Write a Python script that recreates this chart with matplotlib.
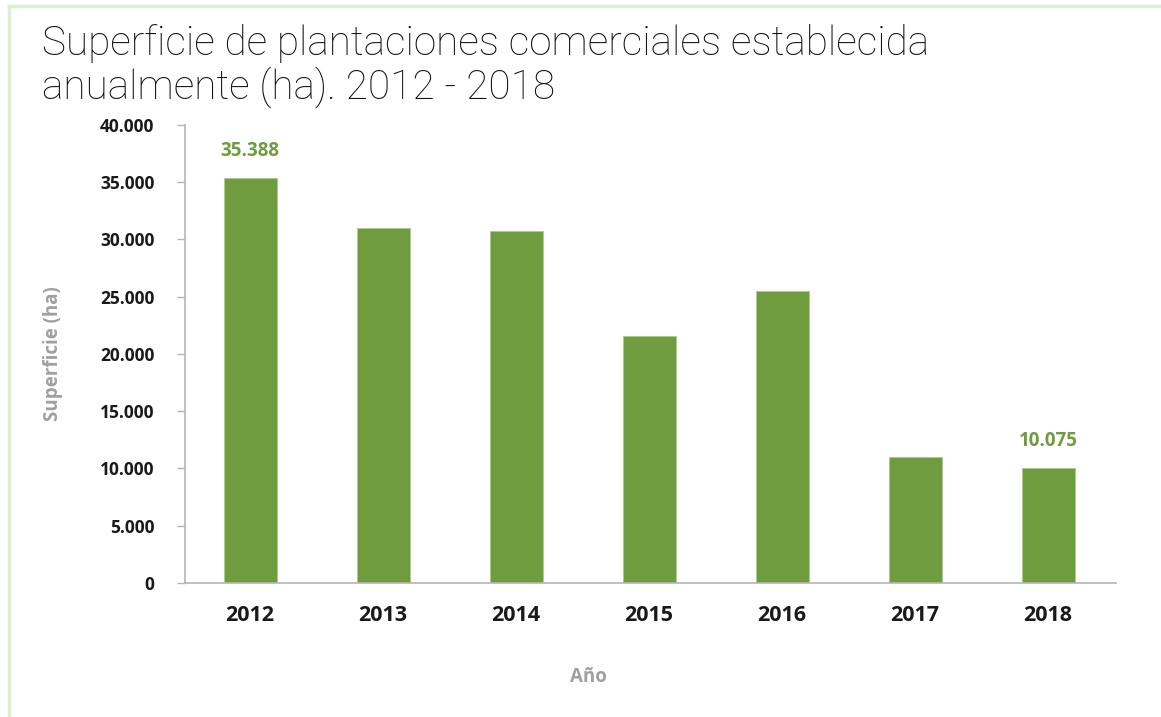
import matplotlib
matplotlib.use("Agg")
import matplotlib.pyplot as plt
from matplotlib.ticker import FuncFormatter, MultipleLocator
from matplotlib.lines import Line2D

# Superficie establecida por año (ha)
anios = ["2012", "2013", "2014", "2015", "2016", "2017", "2018"]
superficie = [35388, 31000, 30700, 21600, 25500, 11000, 10075]
# solo se rotulan el primer y el último año
rotulados = ["2012", "2018"]

verde = "#709c40"
gris = "#a0a0a4"


def miles(v, pos=None):
    return f"{int(v):,}".replace(",", ".")


fig = plt.figure(figsize=(11.61, 7.17), dpi=100)
ax = fig.add_axes([0.1593, 0.1869, 0.8019, 0.6388])

ax.bar(range(len(anios)), superficie, width=0.4, color=verde,
       edgecolor="#a9cc86", linewidth=0.6)

for i, (a, v) in enumerate(zip(anios, superficie)):
    if a in rotulados:
        ax.annotate(miles(v), (i, v), xytext=(0, 12), textcoords="offset points",
                    ha="center", va="bottom", color=verde, fontsize=13.5,
                    fontweight="bold", family="Open Sans")

ax.set_xlim(-0.49, 6.51)
ax.set_ylim(0, 40000)
ax.yaxis.set_major_locator(MultipleLocator(5000))
ax.yaxis.set_major_formatter(FuncFormatter(miles))
ax.set_xticks(range(len(anios)))
ax.set_xticklabels(anios)

for s in ["top", "right"]:
    ax.spines[s].set_visible(False)
for s in ["left", "bottom"]:
    ax.spines[s].set_color("#b5b5b5")
    ax.spines[s].set_linewidth(1.2)

ax.tick_params(axis="y", length=6, width=1, color="#b5b5b5", pad=16)
ax.tick_params(axis="x", length=0, pad=16)
for lbl in ax.get_yticklabels():
    lbl.set_fontweight("bold")
    lbl.set_fontsize(12.5)
    lbl.set_family("Open Sans")
    lbl.set_color("#1a1a1a")
for lbl in ax.get_xticklabels():
    lbl.set_fontweight("bold")
    lbl.set_fontsize(15.5)
    lbl.set_family("Open Sans")
    lbl.set_color("#1a1a1a")

ax.set_xlabel("Año", color=gris, fontsize=13.5, fontweight="bold",
              family="Open Sans")
ax.xaxis.set_label_coords(0.433, -0.183)
ax.set_ylabel("Superficie (ha)", color=gris, fontsize=13.5, fontweight="bold",
              family="Open Sans")
ax.yaxis.set_label_coords(-0.131, 0.5)

# título en dos líneas
fig.text(0.036, 1 - 55 / 717, "Superficie de plantaciones comerciales establecida",
         ha="left", va="baseline", fontsize=29.2, family="Roboto",
         fontweight="light", color="#111111")
fig.text(0.036, 1 - 99 / 717, "anualmente (ha). 2012 - 2018",
         ha="left", va="baseline", fontsize=29.2, family="Roboto",
         fontweight="light", color="#111111")

# marco verde claro
fig.add_artist(Line2D([0.0075, 0.0075], [0, 0.991], transform=fig.transFigure,
                      color="#dfedd4", linewidth=2.5))
fig.add_artist(Line2D([0.0075, 1], [0.991, 0.991], transform=fig.transFigure,
                      color="#dfedd4", linewidth=2.5))

fig.savefig("out.png", dpi=100)
